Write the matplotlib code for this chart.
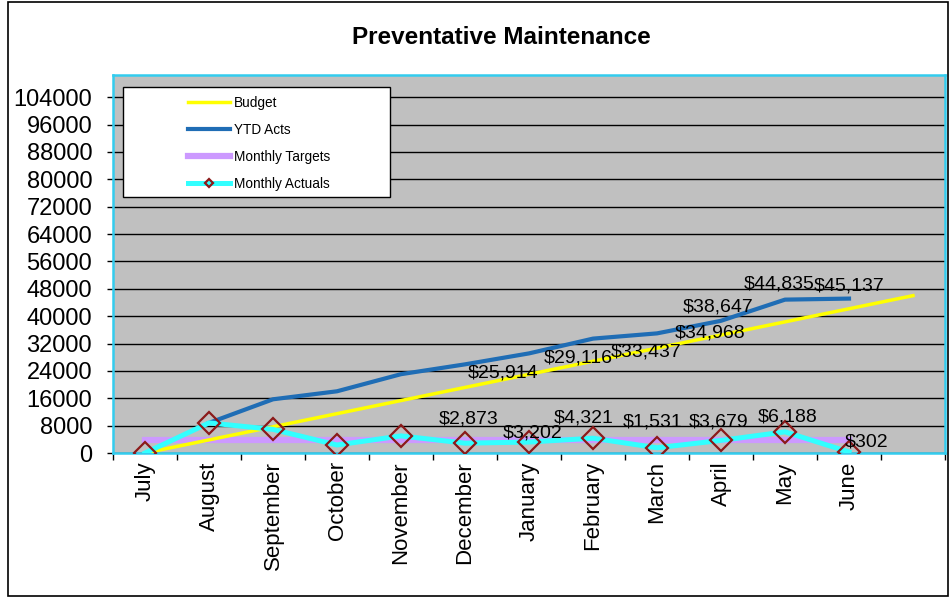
import matplotlib

matplotlib.use("Agg")
import matplotlib.pyplot as plt
from matplotlib.patches import Rectangle
import numpy as np

plt.rcParams["font.family"] = ["Liberation Sans", "DejaVu Sans"]

# categories (13th slot is unlabeled, budget runs into it)
MONTHS = ["July", "August", "September", "October", "November", "December",
          "January", "February", "March", "April", "May", "June", ""]

BUDGET = [0, 3833, 7667, 11500, 15333, 19167, 23000, 26833, 30667,
          34500, 38333, 42167, 46000]
YTD_ACTS = [np.nan, 8800, 15700, 18041, 23041, 25914, 29116, 33437, 34968,
            38647, 44835, 45137]
MONTHLY_TARGETS = [3833, 3833, 3833, 3833, 3833, 3833, 3833, 3833, 3833,
                   3833, 3833, 3833]
MONTHLY_ACTUALS = [0, 8800, 6900, 2341, 5000, 2873, 3202, 4321, 1531,
                   3679, 6188, 302]

Y_TICKS = [0, 8000, 16000, 24000, 32000, 40000, 48000, 56000, 64000,
           72000, 80000, 88000, 96000, 104000]

# data labels are shown from December on
LABEL_FROM = 5
YTD_OFFS = [(38, -9), (49, -5), (53, -13), (53, 0), (-3, 14), (-6, 16), (0, 13)]
ACT_OFFS = [(4, 24), (4, 9), (-9, 20), (-4, 26), (-2, 18), (3, 15), (18, 10)]


def main() -> None:
    fig = plt.figure(figsize=(9.5, 6), dpi=100)
    fig.patches.append(Rectangle((8 / 950, 4 / 600), 940 / 950, 594 / 600,
                                 transform=fig.transFigure, fill=False,
                                 edgecolor="black", lw=1.2))
    ax = fig.add_axes([113 / 950, 147 / 600, 832 / 950, 378 / 600])
    ax.set_facecolor("#c0c0c0")

    x_b = np.arange(len(BUDGET))
    x_m = np.arange(len(MONTHLY_ACTUALS))

    ax.plot(x_m, MONTHLY_TARGETS, color="#cc99ff", lw=4.5, zorder=3,
            label="Monthly Targets")
    ax.plot(x_b, BUDGET, color="#ffff00", lw=2.5, zorder=4, label="Budget")
    ax.plot(x_m, YTD_ACTS, color="#1f6db5", lw=3.0, zorder=5,
            label="YTD Acts")
    ax.plot(x_m, MONTHLY_ACTUALS, color="#33ffff", lw=3.6, zorder=6,
            marker="D", ms=11, mfc="none", mec="#8b1a1a", mew=1.6,
            label="Monthly Actuals")

    for k, (dx, dy) in enumerate(YTD_OFFS):
        i = LABEL_FROM + k
        ax.annotate(f"${YTD_ACTS[i]:,.0f}", (i, YTD_ACTS[i]),
                    xytext=(dx, dy), textcoords="offset pixels",
                    ha="center", va="center", fontsize=14, zorder=8)
    for k, (dx, dy) in enumerate(ACT_OFFS):
        i = LABEL_FROM + k
        ax.annotate(f"${MONTHLY_ACTUALS[i]:,.0f}", (i, MONTHLY_ACTUALS[i]),
                    xytext=(dx, dy), textcoords="offset pixels",
                    ha="center", va="center", fontsize=14, zorder=8)

    ax.set_xlim(-0.5, len(MONTHS) - 0.5)
    ax.set_ylim(0, 110500)
    ax.set_yticks(Y_TICKS)
    ax.set_yticklabels([str(v) for v in Y_TICKS], fontsize=17)
    ax.tick_params(axis="y", length=4, width=1, pad=11)
    ax.grid(axis="y", color="black", lw=1)
    ax.set_axisbelow(True)

    ax.set_xticks(np.arange(len(MONTHS)))
    ax.set_xticklabels(MONTHS, rotation=90, fontsize=16)
    ax.set_xticks(np.arange(len(MONTHS) + 1) - 0.5, minor=True)
    ax.tick_params(axis="x", which="major", length=0, pad=6)
    ax.tick_params(axis="x", which="minor", length=5, width=1)

    for side in ["top", "left", "bottom", "right"]:
        ax.spines[side].set_color("#33ccee")
        ax.spines[side].set_linewidth(1.8)

    # legend: white box plus frameless entries inside it
    ax.add_patch(Rectangle((0.012, 0.677), 0.321, 0.291,
                           transform=ax.transAxes, facecolor="white",
                           edgecolor="black", lw=1, zorder=9))
    h, l = ax.get_legend_handles_labels()
    order = [1, 2, 0, 3]
    leg = ax.legend([h[i] for i in order], [l[i] for i in order],
                    loc="upper left", bbox_to_anchor=(0.082, 0.962),
                    frameon=False, fontsize=9.8, borderpad=0,
                    handlelength=3.1, handletextpad=0.3,
                    labelspacing=0.95, markerscale=0.35)
    leg.set_zorder(10)

    fig.text(0.528, 1 - 38 / 600, "Preventative Maintenance",
             ha="center", va="center", fontsize=17.5, fontweight="bold")

    fig.savefig("out.png", dpi=100)
    plt.close(fig)


if __name__ == "__main__":
    main()
